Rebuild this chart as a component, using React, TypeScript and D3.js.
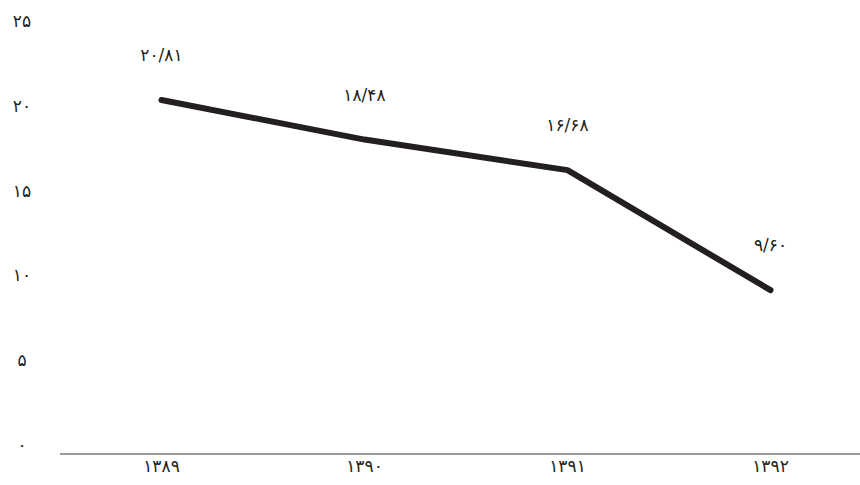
import React from "react";
import * as d3 from "d3";

const categories = ["۱۳۸۹", "۱۳۹۰", "۱۳۹۱", "۱۳۹۲"];
const values = [20.81, 18.48, 16.68, 9.6];
const valueLabels = ["۲۰/۸۱", "۱۸/۴۸", "۱۶/۶۸", "۹/۶۰"];
const yTicks = [0, 5, 10, 15, 20, 25];
const yTickLabels = ["۰", "۵", "۱۰", "۱۵", "۲۰", "۲۵"];

const W = 860;
const H = 485;

export default function App() {
  const x = d3.scalePoint<string>().domain(categories).range([60, 872]).padding(0.5);
  const y = d3.scaleLinear().domain([0, 25]).range([453, 29]);
  const line = d3
    .line<number>()
    .x((_, i) => x(categories[i]) as number)
    .y((d) => y(d));
  const font = "'DejaVu Sans', sans-serif";
  const fs = 17;
  return (
    <svg
      width={W}
      height={H}
      style={{ position: "absolute", left: 0, top: 0, background: "#fff" }}
      fontFamily={font}
    >
      <line x1={60} x2={W} y1={y(0) + 1} y2={y(0) + 1} stroke="#9a9a9a" strokeWidth={2} />
      {yTicks.map((t, i) => (
        <text
          key={t}
          x={22}
          y={y(t) - 7}
          textAnchor="middle"
          dominantBaseline="middle"
          fontSize={fs}
          fill="#231f20"
        >
          {yTickLabels[i]}
        </text>
      ))}
      {categories.map((c) => (
        <text
          key={c}
          x={x(c) as number}
          y={y(0) + 14}
          textAnchor="middle"
          dominantBaseline="middle"
          fontSize={fs}
          fill="#231f20"
        >
          {c}
        </text>
      ))}
      <path
        d={line(values) || ""}
        fill="none"
        stroke="#231f20"
        strokeWidth={6}
        strokeLinecap="round"
        strokeLinejoin="round"
      />
      {values.map((v, i) => (
        <text
          key={i}
          x={x(categories[i]) as number}
          y={y(v) - 44}
          textAnchor="middle"
          dominantBaseline="middle"
          fontSize={fs}
          fill="#231f20"
        >
          {valueLabels[i]}
        </text>
      ))}
    </svg>
  );
}
